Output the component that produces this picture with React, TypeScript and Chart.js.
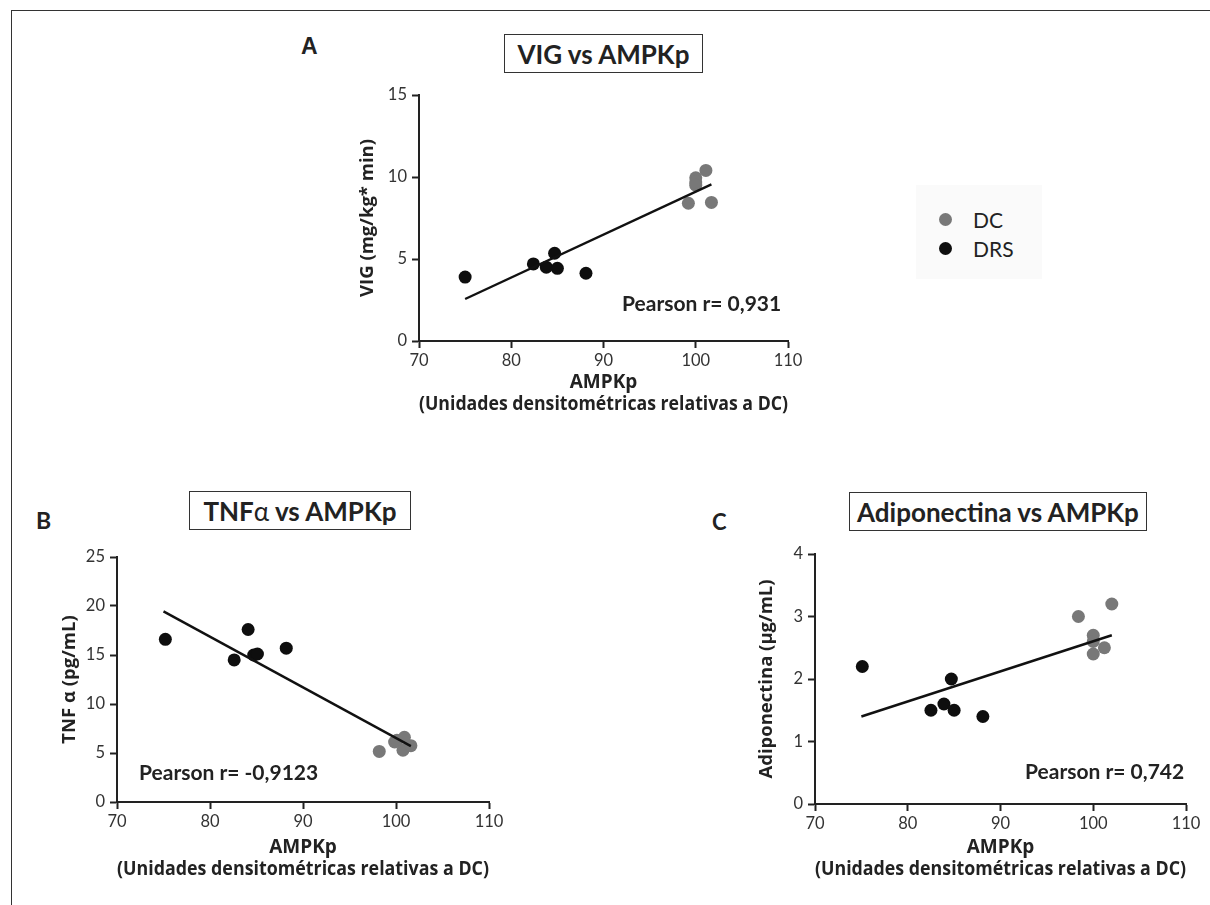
import React, { useEffect, useRef } from "react";
import { Chart, registerables } from "chart.js";

Chart.register(...registerables);

const FONT = "Lato, 'Open Sans', 'Noto Sans', sans-serif";
const TITLE_FONT = "'Open Sans', Lato, sans-serif";
const GREY = "#787878";
const BLACK = "#0e0e0e";
const INK = "#222222";

// Shared x axis
const xMin = 70;
const xMax = 110;
const xStep = 10;
const xTitle = ["AMPKp", "(Unidades densitométricas relativas a DC)"];

// Panel A: VIG vs AMPKp
const dcA_x = [99.2, 100, 100, 100, 101.1, 101.7];
const dcA_y = [8.4, 9.95, 9.7, 9.5, 10.4, 8.45];
const drsA_x = [75, 82.4, 83.8, 84.7, 85.0, 88.1];
const drsA_y = [3.9, 4.7, 4.5, 5.35, 4.43, 4.13];
const fitA_x = [75, 101.7];
const fitA_y = [2.56, 9.55];
const yA = { min: 0, max: 15, step: 5 };

// Panel B: TNFα vs AMPKp
const dcB_x = [98.2, 99.85, 100.1, 100.9, 100.75, 101.6];
const dcB_y = [5.16, 6.12, 6.3, 6.6, 5.28, 5.75];
const drsB_x = [75.2, 82.6, 84.1, 84.7, 85.1, 88.2];
const drsB_y = [16.6, 14.5, 17.6, 15.0, 15.1, 15.7];
const fitB_x = [75, 101.6];
const fitB_y = [19.45, 5.7];
const yB = { min: 0, max: 25, step: 5 };

// Panel C: Adiponectina vs AMPKp
const dcC_x = [98.4, 100, 100, 100, 101.2, 102];
const dcC_y = [3.0, 2.7, 2.6, 2.4, 2.5, 3.2];
const drsC_x = [75.1, 82.5, 83.9, 84.7, 85.0, 88.1];
const drsC_y = [2.2, 1.5, 1.6, 2.0, 1.5, 1.4];
const fitC_x = [75, 102];
const fitC_y = [1.4, 2.7];
const yC = { min: 0, max: 4, step: 1 };

const zip = (xs: number[], ys: number[]) => xs.map((x, i) => ({ x, y: ys[i] }));

type PanelProps = {
  left: number;
  top: number;
  width: number;
  height: number;
  pad: { left: number; right: number; top: number; bottom: number };
  yWidth: number;
  xHeight: number;
  yTitlePad: number;
  yTitle: string;
  y: { min: number; max: number; step: number };
  dcx: number[];
  dcy: number[];
  drsx: number[];
  drsy: number[];
  fitx: number[];
  fity: number[];
};

function Panel(p: PanelProps) {
  const ref = useRef<HTMLCanvasElement | null>(null);
  useEffect(() => {
    if (!ref.current) return;
    const axisCommon = {
      grid: {
        drawOnChartArea: false,
        drawTicks: true,
        tickLength: 7,
        tickWidth: 2,
        tickColor: INK,
      },
      border: { display: true, color: INK, width: 2 },
    };
    const chart = new Chart(ref.current, {
      type: "scatter",
      data: {
        datasets: [
          {
            label: "fit",
            data: zip(p.fitx, p.fity),
            showLine: true,
            borderColor: "#111",
            borderWidth: 2.4,
            pointRadius: 0,
            fill: false,
            order: 0,
          },
          {
            label: "DC",
            data: zip(p.dcx, p.dcy),
            backgroundColor: GREY,
            borderWidth: 0,
            pointRadius: 6.5,
            order: 1,
          },
          {
            label: "DRS",
            data: zip(p.drsx, p.drsy),
            backgroundColor: BLACK,
            borderWidth: 0,
            pointRadius: 6.5,
            order: 1,
          },
        ],
      },
      options: {
        animation: false,
        responsive: false,
        layout: { padding: p.pad },
        plugins: { legend: { display: false }, tooltip: { enabled: false } },
        scales: {
          x: {
            type: "linear",
            min: xMin,
            max: xMax,
            ticks: { stepSize: xStep, font: { family: FONT, size: 16.5 }, color: "#333", padding: 3 },
            ...axisCommon,
            title: {
              display: true,
              text: xTitle,
              color: INK,
              font: { family: TITLE_FONT, size: 19, weight: "bold", lineHeight: 1.17 },
              padding: { top: 0, bottom: 4 },
            },
            afterFit: (s: any) => {
              s.height = p.xHeight;
            },
          },
          y: {
            type: "linear",
            min: p.y.min,
            max: p.y.max,
            ticks: { stepSize: p.y.step, font: { family: FONT, size: 16.5 }, color: "#333", padding: 5 },
            ...axisCommon,
            title: {
              display: true,
              text: p.yTitle,
              color: INK,
              font: { family: TITLE_FONT, size: 18.5, weight: "bold", lineHeight: 1.2 },
              padding: { top: p.yTitlePad, bottom: 0 },
            },
            afterFit: (s: any) => {
              s.width = p.yWidth;
            },
          },
        },
      } as any,
    });
    return () => chart.destroy();
  }, []);
  return (
    <canvas
      ref={ref}
      width={p.width}
      height={p.height}
      style={{ position: "absolute", left: p.left, top: p.top, width: p.width, height: p.height }}
    />
  );
}

const abs = (extra: React.CSSProperties): React.CSSProperties => ({
  position: "absolute",
  whiteSpace: "nowrap",
  lineHeight: 1,
  color: INK,
  fontFamily: FONT,
  ...extra,
});

function TitleBox(props: { left: number; top: number; w: number; h: number; children: React.ReactNode }) {
  return (
    <div
      style={{
        position: "absolute",
        left: props.left,
        top: props.top,
        width: props.w,
        height: props.h,
        boxSizing: "border-box",
        border: "1.5px solid #333",
        display: "flex",
        alignItems: "center",
        justifyContent: "center",
        fontFamily: FONT,
        fontWeight: 700,
        fontSize: 26,
        color: INK,
        whiteSpace: "nowrap",
      }}
    >
      {props.children}
    </div>
  );
}

function Dot(props: { x: number; y: number; color: string }) {
  return (
    <div
      style={{
        position: "absolute",
        left: props.x - 6.5,
        top: props.y - 6.5,
        width: 13,
        height: 13,
        borderRadius: "50%",
        background: props.color,
      }}
    />
  );
}

export default function App() {
  return (
    <div
      style={{
        position: "absolute",
        left: 0,
        top: 0,
        width: 1210,
        height: 905,
        overflow: "hidden",
        background: "#fff",
      }}
    >
      {/* figure frame */}
      <div
        style={{
          position: "absolute",
          left: 11,
          top: 10,
          width: 1199,
          height: 895,
          boxSizing: "border-box",
          borderTop: "1.5px solid #333",
          borderLeft: "1.5px solid #333",
        }}
      />

      {/* Panel letters */}
      <div style={abs({ left: 301, top: 35, fontFamily: "'Liberation Sans', Arial, sans-serif", fontWeight: 700, fontSize: 23 })}>A</div>
      <div style={abs({ left: 36, top: 520, transform: "translateY(-50%)", fontWeight: 700, fontSize: 23 })}>B</div>
      <div style={abs({ left: 712, top: 521.5, transform: "translateY(-50%)", fontWeight: 700, fontSize: 22 })}>C</div>

      {/* Title boxes */}
      <TitleBox left={504} top={34} w={199} h={39}>VIG vs AMPKp</TitleBox>
      <TitleBox left={189} top={491} w={222} h={39}>
        TNF<span style={{ fontWeight: 400 }}>α</span>&nbsp;vs AMPKp
      </TitleBox>
      <TitleBox left={849} top={492} w={298} h={39}>Adiponectina vs AMPKp</TitleBox>

      {/* Charts */}
      <Panel
        left={330}
        top={80}
        width={490}
        height={340}
        pad={{ left: 20, right: 32, top: 15, bottom: 0 }}
        yWidth={69}
        xHeight={79}
        yTitlePad={7}
        yTitle="VIG (mg/kg* min)"
        y={yA}
        dcx={dcA_x}
        dcy={dcA_y}
        drsx={drsA_x}
        drsy={drsA_y}
        fitx={fitA_x}
        fity={fitA_y}
      />
      <Panel
        left={40}
        top={540}
        width={500}
        height={345}
        pad={{ left: 10, right: 51, top: 17, bottom: 0 }}
        yWidth={67}
        xHeight={83}
        yTitlePad={9}
        yTitle="TNF α (pg/mL)"
        y={yB}
        dcx={dcB_x}
        dcy={dcB_y}
        drsx={drsB_x}
        drsy={drsB_y}
        fitx={fitB_x}
        fity={fitB_y}
      />
      <Panel
        left={740}
        top={538}
        width={470}
        height={347}
        pad={{ left: 10, right: 24, top: 16, bottom: 0 }}
        yWidth={65}
        xHeight={81}
        yTitlePad={6}
        yTitle="Adiponectina (μg/mL)"
        y={yC}
        dcx={dcC_x}
        dcy={dcC_y}
        drsx={drsC_x}
        drsy={drsC_y}
        fitx={fitC_x}
        fity={fitC_y}
      />

      {/* Pearson annotations */}
      <div style={abs({ left: 622, top: 301.7, transform: "translateY(-50%)", fontWeight: 700, fontSize: 21 })}>Pearson r= 0,931</div>
      <div style={abs({ left: 139, top: 770.7, transform: "translateY(-50%)", fontWeight: 700, fontSize: 21 })}>Pearson r= -0,9123</div>
      <div style={abs({ left: 1025, top: 770, transform: "translateY(-50%)", fontWeight: 700, fontSize: 21 })}>Pearson r= 0,742</div>

      {/* Legend */}
      <div style={{ position: "absolute", left: 916, top: 185, width: 126, height: 94, background: "#fafafa" }} />
      <Dot x={945} y={219} color={GREY} />
      <Dot x={945} y={248} color={BLACK} />
      <div style={abs({ left: 973, top: 219, transform: "translateY(-50%)", fontSize: 21 })}>DC</div>
      <div style={abs({ left: 973, top: 248, transform: "translateY(-50%)", fontSize: 21 })}>DRS</div>
    </div>
  );
}
